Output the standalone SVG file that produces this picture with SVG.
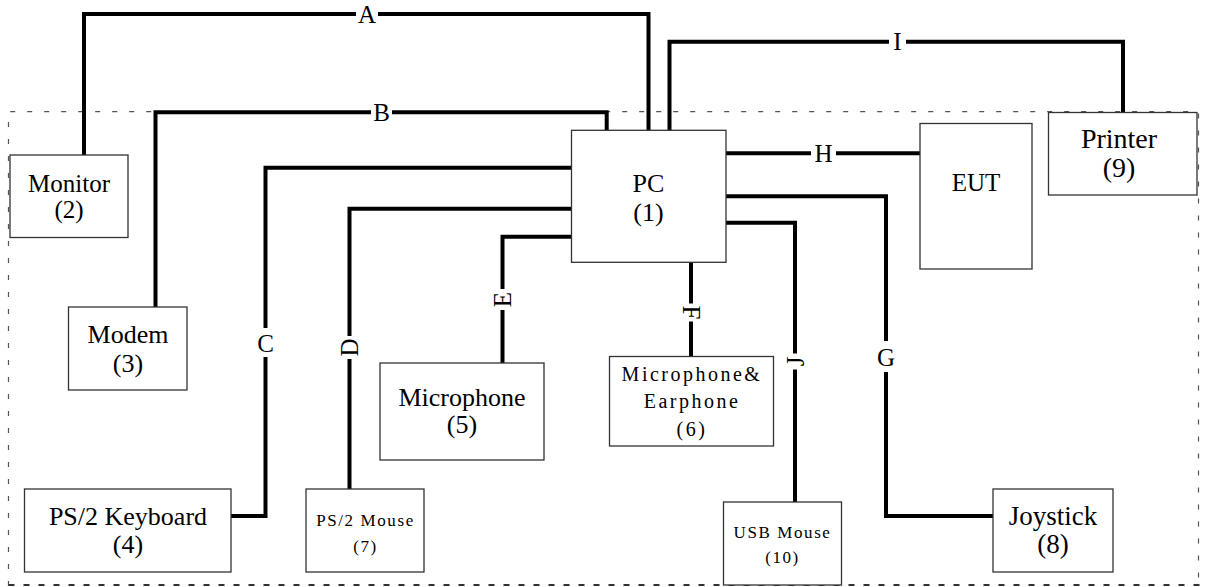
<svg xmlns="http://www.w3.org/2000/svg" width="1206" height="587" viewBox="0 0 1206 587">
<style>
.box{fill:#fff;stroke:#333;stroke-width:1.3}
.t{font-family:"Liberation Serif","Times New Roman",serif;font-size:26px;fill:#000;text-anchor:middle}
.ts{font-family:"Liberation Serif","Times New Roman",serif;font-size:17px;fill:#000;text-anchor:middle;letter-spacing:1.6px}
.tm{font-family:"Liberation Serif","Times New Roman",serif;font-size:20px;fill:#000;text-anchor:middle;letter-spacing:2.5px}
.w{fill:none;stroke:#000;stroke-width:4;stroke-linejoin:miter;stroke-linecap:square}
.gap{fill:#fff}
.lb{font-family:"Liberation Serif","Times New Roman",serif;font-size:25px;fill:#000;text-anchor:middle}
.border{fill:none;stroke:#555;stroke-width:1.2;stroke-dasharray:5 12}
.borderb{fill:none;stroke:#333;stroke-width:2;stroke-dasharray:6 9}
</style>
<rect width="1206" height="587" fill="#fff"/>
<g id="border">
<path class="border" d="M8.5,586 V111.7 H1198.5 V586"/>
<path class="borderb" d="M8.5,585 H1200"/>
</g>
<g id="connectors">
<path class="w" d="M84,155 V14 H648.5 V130"/>
<path class="w" d="M669.5,130 V41.7 H1123 V112"/>
<path class="w" d="M155.5,307 V112.3 H606.7 V130"/>
<path class="w" d="M571.5,167.7 H265.5 V516 H231"/>
<path class="w" d="M571.5,208.7 H349.5 V489"/>
<path class="w" d="M571.5,236.7 H502.5 V363"/>
<path class="w" d="M691,262 V356"/>
<path class="w" d="M726,153.3 H920"/>
<path class="w" d="M726,196.3 H886 V516 H993"/>
<path class="w" d="M726,222.7 H795 V502"/>
<rect class="gap" x="356" y="10" width="22" height="8"/>
<rect class="gap" x="371" y="108" width="21" height="8"/>
<rect class="gap" x="889" y="37.5" width="17" height="8"/>
<rect class="gap" x="811" y="149" width="25" height="8"/>
<rect class="gap" x="261" y="328" width="9" height="29"/>
<rect class="gap" x="345" y="336" width="9" height="23"/>
<rect class="gap" x="498" y="289" width="9" height="21"/>
<rect class="gap" x="686.5" y="303.5" width="9" height="18"/>
<rect class="gap" x="790.5" y="353.5" width="9" height="16"/>
<rect class="gap" x="881.5" y="341" width="9" height="31"/>
<text class="lb" x="367" y="22.5">A</text>
<text class="lb" x="381.5" y="120.5">B</text>
<text class="lb" x="265.5" y="352">C</text>
<text class="lb" transform="translate(349.5,347.5) rotate(-90)" x="0" y="8.5">D</text>
<text class="lb" transform="translate(502.5,299.5) rotate(-90)" x="0" y="8.5">E</text>
<text class="lb" transform="translate(691,312.5) rotate(90)" x="0" y="8.5">F</text>
<text class="lb" x="886" y="366">G</text>
<text class="lb" x="823.5" y="161.5">H</text>
<text class="lb" x="897.5" y="50">I</text>
<text class="lb" transform="translate(795,361.5) rotate(-90)" x="0" y="8.5">J</text>
</g>
<g id="pc">
<rect class="box" x="571.5" y="130.3" width="154.5" height="132"/>
<text class="t" x="648.5" y="192">PC</text>
<text class="t" x="648.5" y="221">(1)</text>
</g>
<g id="monitor">
<rect class="box" x="10" y="155" width="118" height="82.5"/>
<text class="t" x="69" y="192" style="font-size:25px">Monitor</text>
<text class="t" x="69" y="218" style="font-size:25px">(2)</text>
</g>
<g id="modem">
<rect class="box" x="68.5" y="307" width="118.5" height="83"/>
<text class="t" x="128" y="343">Modem</text>
<text class="t" x="128" y="372">(3)</text>
</g>
<g id="keyboard">
<rect class="box" x="24.5" y="489" width="206.5" height="83"/>
<text class="t" x="128" y="525">PS/2 Keyboard</text>
<text class="t" x="128" y="553">(4)</text>
</g>
<g id="microphone">
<rect class="box" x="380" y="363" width="164" height="97"/>
<text class="t" x="462" y="406">Microphone</text>
<text class="t" x="462" y="433">(5)</text>
</g>
<g id="micearphone">
<rect class="box" x="609.5" y="356.5" width="164" height="89.5"/>
<text class="tm" x="692" y="381">Microphone&amp;</text>
<text class="tm" x="692" y="408">Earphone</text>
<text class="tm" x="692" y="436">(6)</text>
</g>
<g id="ps2mouse">
<rect class="box" x="306" y="489" width="118" height="83"/>
<text class="ts" x="365.5" y="526">PS/2 Mouse</text>
<text class="ts" x="365.5" y="552">(7)</text>
</g>
<g id="joystick">
<rect class="box" x="993" y="489" width="120" height="83"/>
<text class="t" x="1053" y="525" style="font-size:27px">Joystick</text>
<text class="t" x="1053" y="553" style="font-size:27px">(8)</text>
</g>
<g id="printer">
<rect class="box" x="1048.5" y="112.5" width="148.5" height="82.5"/>
<text class="t" x="1119" y="148" style="font-size:28px">Printer</text>
<text class="t" x="1119" y="177" style="font-size:28px">(9)</text>
</g>
<g id="usbmouse">
<rect class="box" x="723.5" y="502" width="118" height="83"/>
<text class="ts" x="782.5" y="538">USB Mouse</text>
<text class="ts" x="782.5" y="563">(10)</text>
</g>
<g id="eut">
<rect class="box" x="920" y="123.5" width="112" height="145.5"/>
<text class="t" x="976" y="191" style="font-size:25px">EUT</text>
</g>
</svg>
